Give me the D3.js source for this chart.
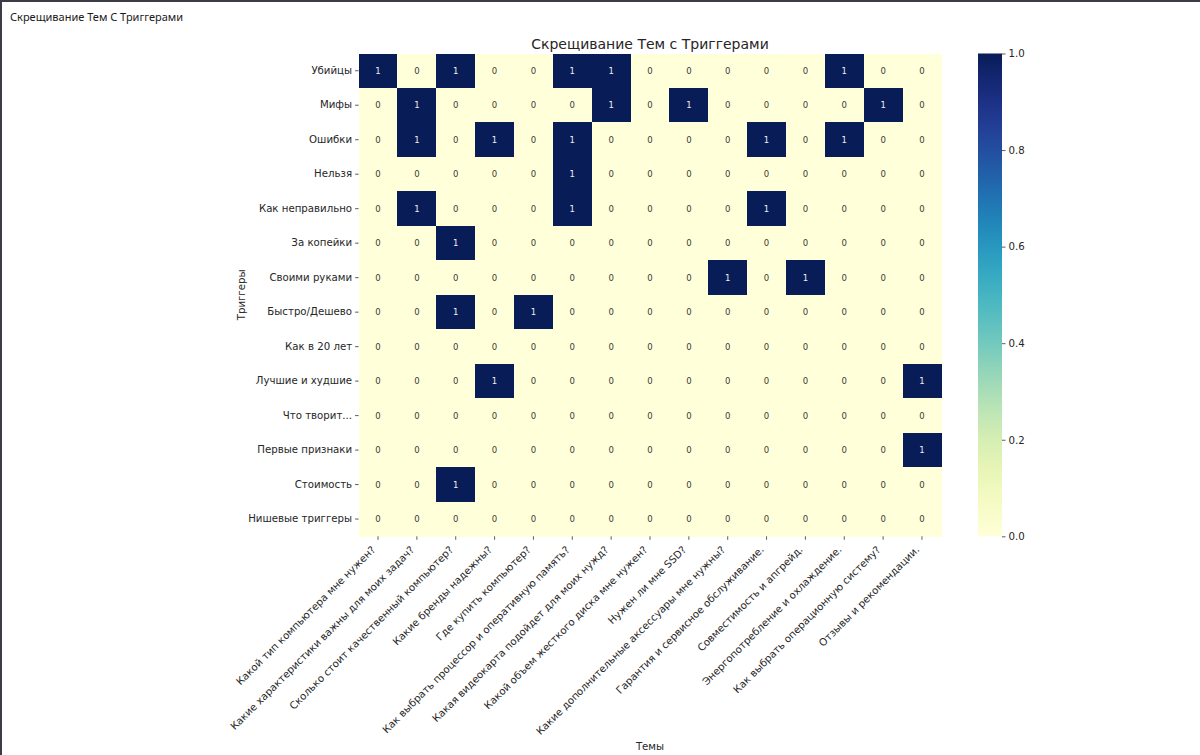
<!DOCTYPE html>
<html>
<head>
<meta charset="utf-8">
<script src="https://cdn.jsdelivr.net/npm/d3@7"></script>
<style>
  body { margin: 0; background: #fff; }
  svg { display: block; }
</style>
</head>
<body>
<div id="chart"></div>
<script>
// Heatmap: triggers x topics

const triggers = ["Убийцы", "Мифы", "Ошибки", "Нельзя", "Как неправильно", "За копейки",
  "Своими руками", "Быстро/Дешево", "Как в 20 лет", "Лучшие и худшие", "Что творит...",
  "Первые признаки", "Стоимость", "Нишевые триггеры"];

const topics = ["Какой тип компьютера мне нужен?",
  "Какие характеристики важны для моих задач?",
  "Сколько стоит качественный компьютер?",
  "Какие бренды надежны?",
  "Где купить компьютер?",
  "Как выбрать процессор и оперативную память?",
  "Какая видеокарта подойдет для моих нужд?",
  "Какой объем жесткого диска мне нужен?",
  "Нужен ли мне SSD?",
  "Какие дополнительные аксессуары мне нужны?",
  "Гарантия и сервисное обслуживание.",
  "Совместимость и апгрейд.",
  "Энергопотребление и охлаждение.",
  "Как выбрать операционную систему?",
  "Отзывы и рекомендации."];

const matrix = [
  [1,0,1,0,0,1,1,0,0,0,0,0,1,0,0],
  [0,1,0,0,0,0,1,0,1,0,0,0,0,1,0],
  [0,1,0,1,0,1,0,0,0,0,1,0,1,0,0],
  [0,0,0,0,0,1,0,0,0,0,0,0,0,0,0],
  [0,1,0,0,0,1,0,0,0,0,1,0,0,0,0],
  [0,0,1,0,0,0,0,0,0,0,0,0,0,0,0],
  [0,0,0,0,0,0,0,0,0,1,0,1,0,0,0],
  [0,0,1,0,1,0,0,0,0,0,0,0,0,0,0],
  [0,0,0,0,0,0,0,0,0,0,0,0,0,0,0],
  [0,0,0,1,0,0,0,0,0,0,0,0,0,0,1],
  [0,0,0,0,0,0,0,0,0,0,0,0,0,0,0],
  [0,0,0,0,0,0,0,0,0,0,0,0,0,0,1],
  [0,0,1,0,0,0,0,0,0,0,0,0,0,0,0],
  [0,0,0,0,0,0,0,0,0,0,0,0,0,0,0]
];

const cbTicks = [0, 0.2, 0.4, 0.6, 0.8, 1.0];

const W = 1200, H = 755;
const margin = {top: 53.5, left: 358.6};
const width = 582.8, height = 482.8;
const font = "'DejaVu Sans', sans-serif";
const fs = "10.2px";

const svg = d3.select("#chart").append("svg")
    .attr("width", W)
    .attr("height", H);

// window frame
svg.append("rect").attr("x", 0).attr("y", 0).attr("width", W).attr("height", 2).attr("fill", "#3c3c46");
svg.append("rect").attr("x", 0).attr("y", 0).attr("width", 2).attr("height", H).attr("fill", "#3c3c46");
svg.append("text")
    .attr("x", 10).attr("y", 21)
    .style("font-family", "'Segoe UI', 'Noto Sans', sans-serif")
    .style("font-size", "11px")
    .attr("fill", "#1a1a1a")
    .text("Скрещивание Тем С Триггерами");

const g = svg.append("g")
    .attr("transform", `translate(${margin.left},${margin.top})`);

const x = d3.scaleBand().domain(d3.range(topics.length)).range([0, width]);
const y = d3.scaleBand().domain(d3.range(triggers.length)).range([0, height]);
const color = d3.scaleSequential(d3.interpolateYlGnBu).domain([0, 1]);

const cells = [];
matrix.forEach((row, i) => row.forEach((v, j) => cells.push({i, j, v})));

// cells
g.append("g")
    .attr("shape-rendering", "crispEdges")
    .selectAll("rect")
    .data(cells)
    .enter().append("rect")
    .attr("x", d => x(d.j))
    .attr("y", d => y(d.i))
    .attr("width", x.bandwidth() + 0.5)
    .attr("height", y.bandwidth() + 0.5)
    .attr("fill", d => color(d.v));

// annotations
g.append("g").selectAll("text")
    .data(cells)
    .enter().append("text")
    .attr("x", d => x(d.j) + x.bandwidth() / 2)
    .attr("y", d => y(d.i) + y.bandwidth() / 2)
    .attr("dy", "0.35em")
    .attr("text-anchor", "middle")
    .style("font-family", font)
    .style("font-size", "8.5px")
    .attr("fill", d => d.v > 0.5 ? "#f0f0f0" : "#3a3a3a")
    .text(d => d.v);

// y axis
const yAxis = g.append("g")
    .call(d3.axisLeft(y).tickSize(3.5).tickPadding(3).tickFormat(i => triggers[i]));
yAxis.select(".domain").remove();
yAxis.selectAll("line").attr("stroke", "#333").attr("stroke-width", 0.8);
yAxis.selectAll("text")
    .style("font-family", font)
    .style("font-size", fs)
    .attr("fill", "#262626");

// x axis
const xAxis = g.append("g")
    .attr("transform", `translate(0,${height})`)
    .call(d3.axisBottom(x).tickSize(3.5).tickFormat(i => topics[i]));
xAxis.select(".domain").remove();
xAxis.selectAll("line").attr("stroke", "#333").attr("stroke-width", 0.8);
xAxis.selectAll("text")
    .style("font-family", font)
    .style("font-size", fs)
    .attr("fill", "#262626")
    .attr("text-anchor", "end")
    .attr("dy", null)
    .attr("y", 0)
    .attr("transform", "translate(-2,14) rotate(-45)");

// title
g.append("text")
    .attr("x", width / 2)
    .attr("y", -5)
    .attr("text-anchor", "middle")
    .style("font-family", font)
    .style("font-size", "14px")
    .attr("fill", "#262626")
    .text("Скрещивание Тем с Триггерами");

// axis labels
g.append("text")
    .attr("x", width / 2)
    .attr("y", 696)
    .attr("text-anchor", "middle")
    .style("font-family", font)
    .style("font-size", fs)
    .attr("fill", "#262626")
    .text("Темы");

g.append("text")
    .attr("transform", `translate(${-114},${height / 2}) rotate(-90)`)
    .attr("text-anchor", "middle")
    .style("font-family", font)
    .style("font-size", fs)
    .attr("fill", "#262626")
    .text("Триггеры");

// colorbar
const cbX = 978, cbW = 24;
const cbScale = d3.scaleLinear().domain([0, 1]).range([margin.top + height, margin.top]);

const defs = svg.append("defs");
const grad = defs.append("linearGradient")
    .attr("id", "cbgrad")
    .attr("x1", "0").attr("y1", "1").attr("x2", "0").attr("y2", "0");
d3.range(0, 1.0001, 0.05).forEach(t => {
    grad.append("stop").attr("offset", t).attr("stop-color", color(t));
});

svg.append("rect")
    .attr("x", cbX)
    .attr("y", cbScale(1))
    .attr("width", cbW)
    .attr("height", cbScale(0) - cbScale(1))
    .attr("fill", "url(#cbgrad)");

const cbAxis = svg.append("g")
    .attr("transform", `translate(${cbX + cbW},0)`)
    .call(d3.axisRight(cbScale).tickValues(cbTicks).tickSize(3.5).tickPadding(3).tickFormat(d3.format(".1f")));
cbAxis.select(".domain").remove();
cbAxis.selectAll("line").attr("stroke", "#333").attr("stroke-width", 0.8);
cbAxis.selectAll("text")
    .style("font-family", font)
    .style("font-size", fs)
    .attr("fill", "#262626");
</script>
</body>
</html>
